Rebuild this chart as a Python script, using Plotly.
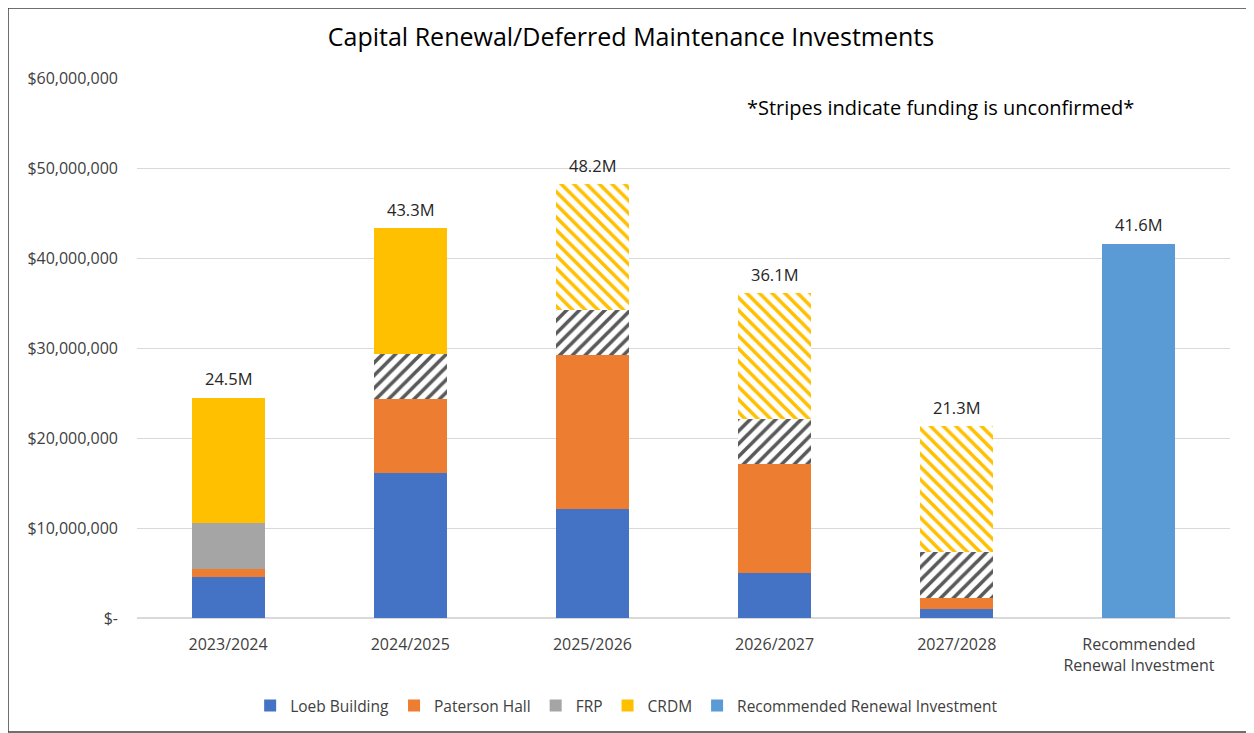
import plotly.graph_objects as go

# fiscal years + the recommended column
categories = ["2023/2024", "2024/2025", "2025/2026", "2026/2027", "2027/2028",
              "Recommended<br>Renewal Investment"]
years = categories[:5]

# values in dollars
loeb = [4.6e6, 16.1e6, 12.1e6, 5.0e6, 1.0e6]
paterson = [0.9e6, 8.2e6, 17.1e6, 12.1e6, 1.2e6]
frp = [5.1e6, 5.0e6, 5.0e6, 5.0e6, 5.1e6]
crdm = [13.9e6, 14.0e6, 14.0e6, 14.0e6, 14.0e6]
recommended = [41.6e6]

# which year bars are unconfirmed (striped)
frp_unconfirmed = [False, True, True, True, True]
crdm_unconfirmed = [False, False, True, True, True]

total_labels = ["24.5M", "43.3M", "48.2M", "36.1M", "21.3M", "41.6M"]
ytick_vals = [0, 10e6, 20e6, 30e6, 40e6, 50e6, 60e6]
ytick_text = ["$-", "$10,000,000", "$20,000,000", "$30,000,000",
              "$40,000,000", "$50,000,000", "$60,000,000"]

FONT = "'Open Sans', Lato, sans-serif"

fig = go.Figure()

fig.add_trace(go.Bar(x=years, y=loeb, name="Loeb Building",
                     marker=dict(color="#4472C4", line_width=0)))
fig.add_trace(go.Bar(x=years, y=paterson, name="Paterson Hall",
                     marker=dict(color="#ED7D31", line_width=0)))

# striped bars: coloured stripes on white
fig.add_trace(go.Bar(
    x=years, y=frp, name="FRP",
    marker=dict(
        color="#A5A5A5",
        line_width=0,
        pattern=dict(shape=["/" if u else "" for u in frp_unconfirmed],
                     fgcolor=["#595959" if u else "#A5A5A5" for u in frp_unconfirmed],
                     bgcolor=["white" if u else "#A5A5A5" for u in frp_unconfirmed],
                     fillmode="replace", size=9, solidity=0.4),
    ),
))
fig.add_trace(go.Bar(
    x=years, y=crdm, name="CRDM",
    marker=dict(
        color="#FFC000",
        line_width=0,
        pattern=dict(shape=["\\" if u else "" for u in crdm_unconfirmed],
                     fgcolor="#FFC000",
                     bgcolor=["white" if u else "#FFC000" for u in crdm_unconfirmed],
                     fillmode="replace", size=9, solidity=0.4),
    ),
))
fig.add_trace(go.Bar(x=categories[5:], y=recommended,
                     name="Recommended Renewal Investment",
                     marker=dict(color="#5B9BD5", line_width=0)))

# totals above each bar
totals = [l + p + f + c for l, p, f, c in zip(loeb, paterson, frp, crdm)] + recommended
for cat, tot, lab in zip(categories, totals, total_labels):
    fig.add_annotation(x=cat, y=tot, text=lab, showarrow=False, yshift=19,
                       font=dict(size=16.5, color="#262626", family=FONT))

fig.add_annotation(x=0.735, y=0.946, xref="paper", yref="paper",
                   xanchor="center", yanchor="middle",
                   text="*Stripes indicate funding is unconfirmed*", showarrow=False,
                   font=dict(size=20, color="#000000", family=FONT))

# outer frame of the chart
fig.add_shape(type="rect", xref="paper", yref="paper",
              x0=-129 / 1093, x1=1 + 23 / 1093, y0=-114 / 540, y1=1 + 70 / 540,
              line=dict(color="#404040", width=1.5))

fig.update_layout(
    width=1246, height=725,
    margin=dict(l=129, r=24, t=70, b=115),
    paper_bgcolor="white", plot_bgcolor="white",
    barmode="stack", bargap=0.6,
    title=dict(text="Capital Renewal/Deferred Maintenance Investments",
               x=0.5, xanchor="center", y=1 - 29 / 725, yanchor="middle",
               font=dict(size=25, color="#000000", family=FONT)),
    font=dict(family=FONT, size=16, color="#404040"),
    legend=dict(orientation="h", x=0.448, xanchor="center",
                yref="container", y=1 - 698 / 725, yanchor="middle",
                bgcolor="rgba(0,0,0,0)",
                font=dict(size=15.5, color="#404040"),
                itemwidth=30, traceorder="normal"),
    showlegend=True,
)
fig.update_xaxes(showline=False, ticks="", ticklabelstandoff=15,
                 tickfont=dict(size=16, color="#404040"))
fig.update_yaxes(range=[0, 60e6], tickvals=ytick_vals, ticktext=ytick_text,
                 showgrid=True, gridcolor="#D9D9D9", gridwidth=1,
                 zeroline=True, zerolinecolor="#D9D9D9",
                 ticks="", ticklabelstandoff=18,
                 tickfont=dict(size=16, color="#404040"))

fig.write_html("out.html")
